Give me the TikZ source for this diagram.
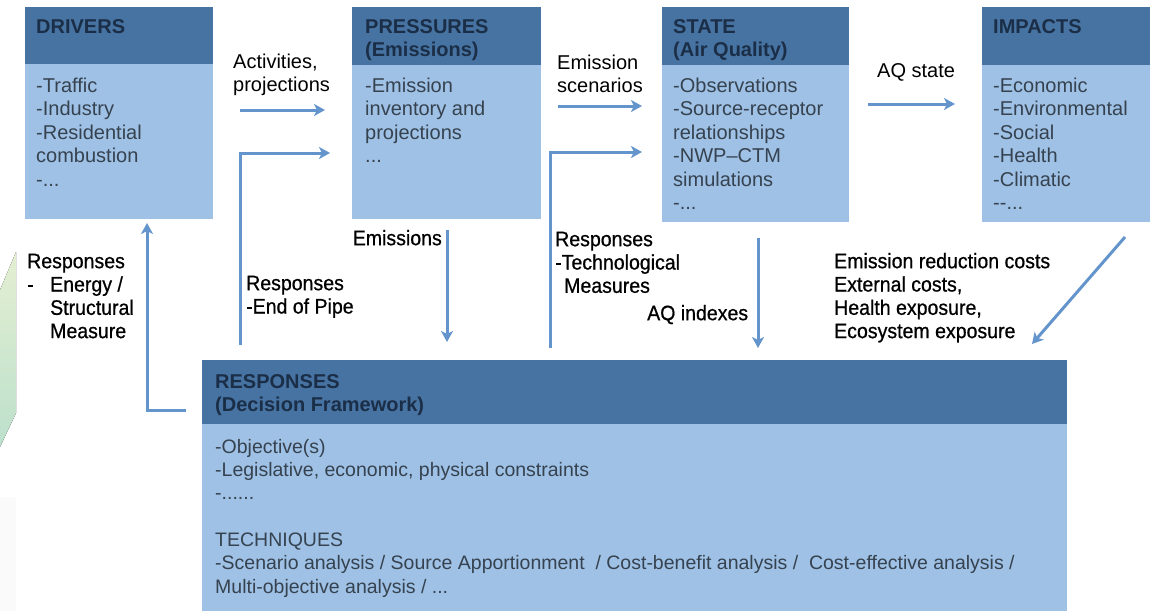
\documentclass[tikz,border=0pt]{standalone}
\usepackage{fontspec}
\setmainfont{Liberation Sans}
\newfontfamily\lblfont[FakeStretch=0.93,FakeBold=0.7]{Liberation Sans}
\usetikzlibrary{arrows.meta}

\definecolor{hdr}{HTML}{4773A2}
\definecolor{bdy}{HTML}{9EC1E5}
\definecolor{hdrtxt}{HTML}{1B2E47}
\definecolor{bdytxt}{HTML}{36424F}
\definecolor{arr}{HTML}{6394CC}
\definecolor{leafA}{HTML}{E4EFD2}
\definecolor{leafB}{HTML}{BCE0CC}

\tikzset{
  panel/.style={anchor=north west, fill=bdy, draw=none, inner sep=0pt, rectangle},
  panelhead/.style={anchor=north west, fill=hdr, draw=none, inner sep=0pt, rectangle},
  headtext/.style={anchor=north west, inner sep=0pt, align=left, text=hdrtxt,
    font=\fontsize{20}{23}\selectfont\bfseries},
  bodytext/.style={anchor=north west, inner sep=0pt, align=left, text=bdytxt,
    font=\fontsize{20}{23.5}\selectfont},
  rbodytext/.style={bodytext, font=\fontsize{19.5}{23.3}\selectfont},
  toplbl/.style={anchor=north west, inner sep=0pt, align=left,
    font=\fontsize{20}{22.5}\selectfont},
  botlbl/.style={anchor=north west, inner sep=0pt, align=left,
    font=\lblfont\fontsize{21}{23.3}\selectfont},
  flow/.style={draw=arr, line width=3pt,
    -{Stealth[length=11pt,width=12pt,inset=3pt]}},
}

\begin{document}
\begin{tikzpicture}[x=1pt,y=-1pt]
\useasboundingbox (0,0) rectangle (1153,611);

% soft decorative band on the left edge
\fill[top color=leafA, bottom color=leafB]
  (0,290) -- (16,252) -- (16,413) -- (0,447) -- cycle;
\fill[black!2] (0,497) rectangle (16,611);

% ---- DRIVERS
\node[panel, minimum width=188pt, minimum height=212pt] (drv) at (25,7) {};
\node[panelhead, minimum width=188pt, minimum height=57pt] (drvh) at (25,7) {};
\node[headtext] (drvt) at (36,16.9) {\strut DRIVERS};
\node[bodytext] (drvb) at (36,75.6) {\strut -Traffic\\-Industry\\-Residential\\combustion\\-...};

% ---- PRESSURES
\node[panel, minimum width=189pt, minimum height=212pt] (prs) at (352,7) {};
\node[panelhead, minimum width=189pt, minimum height=58pt] (prsh) at (352,7) {};
\node[headtext] (prst) at (365,16.9) {\strut PRESSURES\\(Emissions)};
\node[bodytext] (prsb) at (365,75.6) {\strut -Emission\\inventory and\\projections\\...};

% ---- STATE
\node[panel, minimum width=187pt, minimum height=215pt] (st) at (662,7) {};
\node[panelhead, minimum width=187pt, minimum height=58pt] (sth) at (662,7) {};
\node[headtext] (stt) at (673,16.9) {\strut STATE\\(Air Quality)};
\node[bodytext] (stb) at (673,75.6) {\strut -Observations\\-Source-receptor\\relationships\\-NWP--CTM\\simulations\\-...};

% ---- IMPACTS
\node[panel, minimum width=168pt, minimum height=215pt] (imp) at (982,7) {};
\node[panelhead, minimum width=168pt, minimum height=58pt] (imph) at (982,7) {};
\node[headtext] (impt) at (993,16.9) {\strut IMPACTS};
\node[bodytext] (impb) at (993,75.6) {\strut -Economic\\-Environmental\\-Social\\-Health\\-Climatic\\-{}-...};

% ---- RESPONSES
\node[panel, minimum width=865pt, minimum height=251pt] (rsp) at (202,360) {};
\node[panelhead, minimum width=865pt, minimum height=64pt] (rsph) at (202,360) {};
\node[headtext] (rspt) at (215,372) {\strut RESPONSES\\(Decision Framework)};
\node[rbodytext] (rspb) at (215,436.7) {\strut -Objective(s)\\-Legislative, economic, physical constraints\\-......\\[23.3pt]
TECHNIQUES\\-Scenario analysis / Source Apportionment~ / Cost-benefit analysis /~ Cost-effective analysis /\\Multi-objective analysis / ...};

% ---- labels along the top row
\node[toplbl] (lact) at (233,53) {\strut Activities,\\projections};
\node[toplbl] (lesc) at (557,54) {\strut Emission\\scenarios};
\node[toplbl] (laqs) at (877,61.2) {\strut AQ state};

% ---- labels between the rows
\node[botlbl] (lenr) at (27,251.7) {\strut Responses\\\makebox[23pt][l]{-}Energy /\\\hspace*{23pt}Structural\\\hspace*{23pt}Measure};
\node[botlbl] (leop) at (246,273.7) {\strut Responses\\-End of Pipe};
\node[botlbl, anchor=north east] (lemi) at (442,228.7) {\strut Emissions};
\node[botlbl] (ltec) at (555,229.7) {\strut Responses\\-Technological\\\hspace*{9pt}Measures};
\node[botlbl] (laqi) at (647,303.7) {\strut AQ indexes};
\node[botlbl] (lcst) at (834,251.7) {\strut Emission reduction costs\\External costs,\\Health exposure,\\Ecosystem exposure};

% ---- connector end points
\coordinate (actA) at (240,110);   \coordinate (actB) at (325,110);
\coordinate (eopA) at (240,345);   \coordinate (eopB) at (330,153);
\coordinate (escA) at (558,106);   \coordinate (escB) at (642,106);
\coordinate (tecA) at (550,348);   \coordinate (tecB) at (642,152);
\coordinate (aqsA) at (868,104);   \coordinate (aqsB) at (955,104);
\coordinate (emiA) at (447,230);   \coordinate (emiB) at (447,342);
\coordinate (aqiA) at (758,238);   \coordinate (aqiB) at (758,348);
\coordinate (cstA) at (1125,237);  \coordinate (cstB) at (1032,344);
\coordinate (enrA) at (186,410);   \coordinate (enrB) at (147,223);

% ---- connectors
\draw[flow] (actA) -- (actB);
\draw[flow] (eopA) |- (eopB);
\draw[flow] (escA) -- (escB);
\draw[flow] (tecA) |- (tecB);
\draw[flow] (aqsA) -- (aqsB);
\draw[flow] (emiA) -- (emiB);
\draw[flow] (aqiA) -- (aqiB);
\draw[flow] (cstA) -- (cstB);
\draw[flow] (enrA) -| (enrB);
\end{tikzpicture}
\end{document}
